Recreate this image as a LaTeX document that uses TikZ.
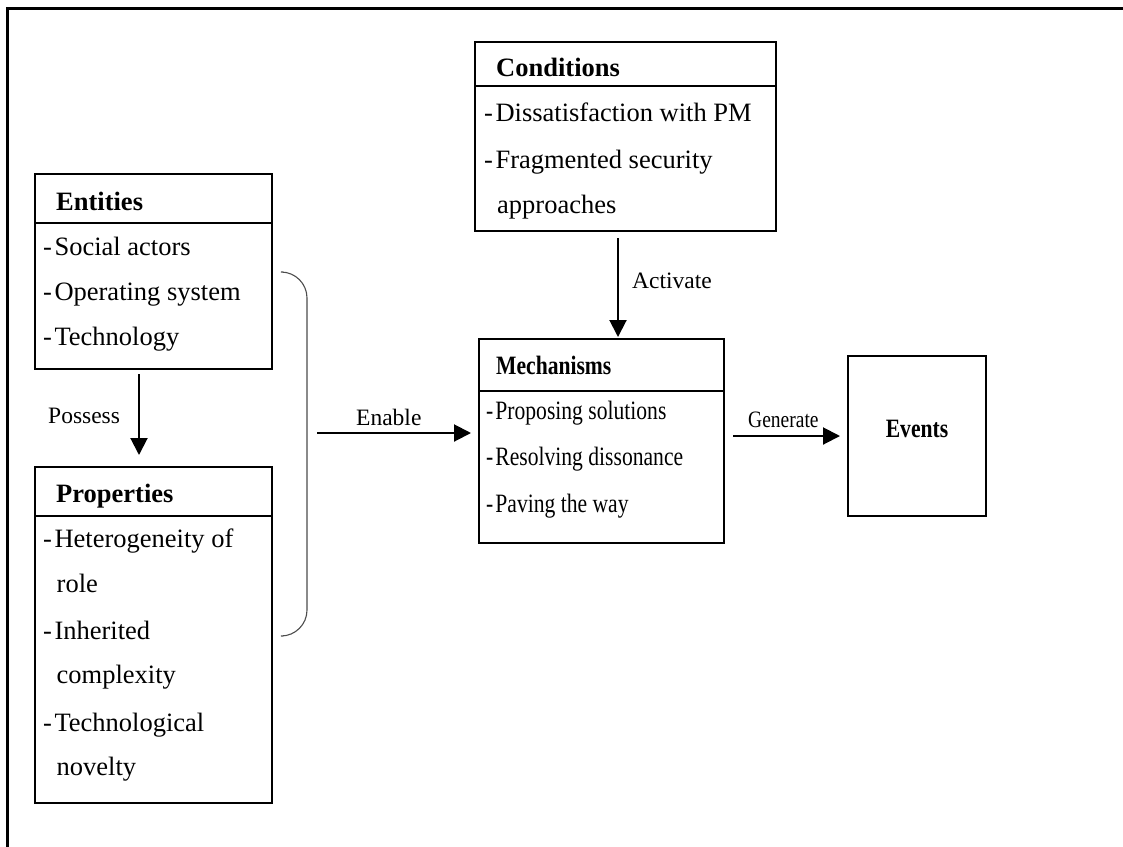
\documentclass[tikz,border=0pt]{standalone}
\usepackage{fontspec}
\usepackage{graphicx}
\setmainfont{Liberation Serif}
\usetikzlibrary{arrows.meta}

\tikzset{
  box/.style={draw, line width=1.8pt, rectangle, inner sep=0pt, outer sep=0pt, anchor=north west},
  divider/.style={line width=1.8pt},
  item/.style={inner sep=0pt, anchor=base west, font=\fontsize{26.5pt}{30pt}\selectfont},
  title/.style={inner sep=0pt, anchor=base west, font=\fontsize{26.5pt}{30pt}\selectfont\bfseries},
  lbl/.style={inner sep=0pt, anchor=base west, font=\fontsize{23.5pt}{27pt}\selectfont},
  arr/.style={line width=2pt, -{Triangle[length=17pt,width=17pt]}},
  frame/.style={line width=3pt},
  bracket/.style={line width=1.1pt, draw=black!70, rounded corners=26pt}
}
\newcommand{\cond}[1]{\scalebox{0.815}[1]{#1}}

\begin{document}
\begin{tikzpicture}[x=1pt,y=-1pt]
\useasboundingbox (0,0) rectangle (1123,846);

% outer frame (only top and left edges lie inside the page)
\draw[frame] (7.5,900) -- (7.5,8) -- (1200,8);

% ---------- boxes ----------
\node[box, minimum width=237pt, minimum height=195pt] (ent)  at (35,174)  {};
\node[box, minimum width=237pt, minimum height=336pt] (prop) at (35,467)  {};
\node[box, minimum width=301pt, minimum height=189pt] (cond) at (475,42)  {};
\node[box, minimum width=245pt, minimum height=204pt] (mech) at (479,339) {};
\node[box, minimum width=138pt, minimum height=160pt] (ev)   at (848,356) {};

% header dividers
\draw[divider] (ent.west  |- 0,223) -- (ent.east  |- 0,223);
\draw[divider] (prop.west |- 0,516) -- (prop.east |- 0,516);
\draw[divider] (cond.west |- 0,86)  -- (cond.east |- 0,86);
\draw[divider] (mech.west |- 0,391) -- (mech.east |- 0,391);

% ---------- Entities ----------
\node[title] (entT) at (56,210) {Entities};
\node[item] (ent1) at (43,255) {-\kern2.5pt Social actors};
\node[item] (ent2) at (43,300) {-\kern2.5pt Operating system};
\node[item] (ent3) at (43,345) {-\kern2.5pt Technology};

% ---------- Properties ----------
\node[title] (propT) at (56,502) {Properties};
\node[item] (prop1) at (43,547) {-\kern2.5pt Heterogeneity of};
\node[item] (prop1b) at (56.5,592) {role};
\node[item] (prop2) at (43,639) {-\kern2.5pt Inherited};
\node[item] (prop2b) at (56.5,683) {complexity};
\node[item] (prop3) at (43,731) {-\kern2.5pt Technological};
\node[item] (prop3b) at (56.5,775) {novelty};

% ---------- Conditions ----------
\node[title] (condT) at (496,76) {Conditions};
\node[item] (cond1) at (484,121) {-\kern2.5pt Dissatisfaction with PM};
\node[item] (cond2) at (484,168) {-\kern2.5pt Fragmented security};
\node[item] (cond2b) at (497,213) {approaches};

% ---------- Mechanisms ----------
\node[title] (mechT) at (496,374) {\cond{Mechanisms}};
\node[item] (mech1) at (486,419) {\cond{-\kern2.5pt Proposing solutions}};
\node[item] (mech2) at (486,465) {\cond{-\kern2.5pt Resolving dissonance}};
\node[item] (mech3) at (486,512) {\cond{-\kern2.5pt Paving the way}};

% ---------- Events ----------
\node[title, anchor=base] (evT) at (917,437) {\cond{Events}};

% ---------- bracket grouping entities and properties ----------
\draw[bracket] (283,272) -- (307,272) -- (307,636) -- (283,636);

% ---------- connectors ----------
\coordinate (possx) at (139,0);
\draw[arr, shorten <=5pt, shorten >=12pt] (ent.south -| possx) -- (prop.north -| possx);
\node[lbl] (possL) at (48,423) {Possess};

\coordinate (enStart) at (317,433);
\draw[arr, shorten >=8pt] (enStart) -- (enStart -| mech.west);
\node[lbl] (enL) at (356,425) {Enable};

\coordinate (actx) at (618,0);
\draw[arr, shorten <=7pt, shorten >=2pt] (cond.south -| actx) -- (mech.north -| actx);
\node[lbl] (actL) at (632,288) {Activate};

\draw[arr, shorten <=9pt, shorten >=8pt] (mech.east |- ev.west) -- (ev.west);
\node[lbl] (genL) at (748,427) {\scalebox{0.83}[1]{Generate}};

\end{tikzpicture}
\end{document}
